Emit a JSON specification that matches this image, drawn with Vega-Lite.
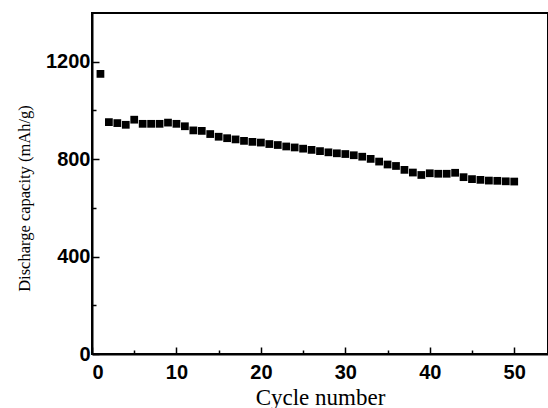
{
  "$schema": "https://vega.github.io/schema/vega-lite/v6.json",
  "width": 456,
  "height": 341,
  "autosize": {"type": "none"},
  "padding": {"left": 92, "top": 13, "right": 0, "bottom": 54},
  "background": "white",
  "view": {"stroke": "black", "strokeWidth": 2},
  "config": {
    "axis": {"grid": false, "domainColor": "black", "domainWidth": 2, "tickColor": "black", "tickWidth": 1.5, "labelColor": "black", "titleColor": "black"}
  },
  "data": {
    "values": [
      {"cycle": 1, "capacity": 1150},
      {"cycle": 2, "capacity": 952},
      {"cycle": 3, "capacity": 948},
      {"cycle": 4, "capacity": 941},
      {"cycle": 5, "capacity": 962},
      {"cycle": 6, "capacity": 945},
      {"cycle": 7, "capacity": 945},
      {"cycle": 8, "capacity": 945},
      {"cycle": 9, "capacity": 950},
      {"cycle": 10, "capacity": 945},
      {"cycle": 11, "capacity": 935},
      {"cycle": 12, "capacity": 918},
      {"cycle": 13, "capacity": 916},
      {"cycle": 14, "capacity": 903},
      {"cycle": 15, "capacity": 892},
      {"cycle": 16, "capacity": 886},
      {"cycle": 17, "capacity": 881},
      {"cycle": 18, "capacity": 875},
      {"cycle": 19, "capacity": 871},
      {"cycle": 20, "capacity": 868},
      {"cycle": 21, "capacity": 862},
      {"cycle": 22, "capacity": 858},
      {"cycle": 23, "capacity": 852},
      {"cycle": 24, "capacity": 848},
      {"cycle": 25, "capacity": 843},
      {"cycle": 26, "capacity": 838},
      {"cycle": 27, "capacity": 833},
      {"cycle": 28, "capacity": 828},
      {"cycle": 29, "capacity": 824},
      {"cycle": 30, "capacity": 821},
      {"cycle": 31, "capacity": 816},
      {"cycle": 32, "capacity": 810},
      {"cycle": 33, "capacity": 801},
      {"cycle": 34, "capacity": 790},
      {"cycle": 35, "capacity": 778},
      {"cycle": 36, "capacity": 772},
      {"cycle": 37, "capacity": 756},
      {"cycle": 38, "capacity": 745},
      {"cycle": 39, "capacity": 735},
      {"cycle": 40, "capacity": 742},
      {"cycle": 41, "capacity": 740},
      {"cycle": 42, "capacity": 740},
      {"cycle": 43, "capacity": 744},
      {"cycle": 44, "capacity": 726},
      {"cycle": 45, "capacity": 718},
      {"cycle": 46, "capacity": 715},
      {"cycle": 47, "capacity": 712},
      {"cycle": 48, "capacity": 711},
      {"cycle": 49, "capacity": 709},
      {"cycle": 50, "capacity": 708}
    ]
  },
  "mark": {"type": "point", "shape": "square", "filled": true, "color": "black", "opacity": 1, "size": 60},
  "encoding": {
    "x": {
      "field": "cycle",
      "type": "quantitative",
      "scale": {"domain": [0, 54], "nice": false, "zero": false},
      "axis": {
        "title": "Cycle number",
        "titleFont": "Liberation Serif",
        "titleFontSize": 23,
        "titleFontWeight": "normal",
        "titlePadding": 4,
        "values": [0, 5, 10, 15, 20, 25, 30, 35, 40, 45, 50],
        "labelExpr": "datum.value % 10 === 0 ? datum.label : ''",
        "labelFont": "Liberation Sans",
        "labelFontSize": 20,
        "labelFontWeight": "bold",
        "labelPadding": 15,
        "tickSize": {"condition": {"test": "datum.value % 10 === 0", "value": -7}, "value": -4}
      }
    },
    "y": {
      "field": "capacity",
      "type": "quantitative",
      "scale": {"domain": [0, 1400], "nice": false},
      "axis": {
        "title": "Discharge capacity (mAh/g)",
        "titleFont": "Liberation Serif",
        "titleFontSize": 16.5,
        "titleFontWeight": "normal",
        "titlePadding": 13,
        "titleY": 185,
        "values": [0, 200, 400, 600, 800, 1000, 1200],
        "labelExpr": "datum.value % 400 === 0 ? datum.label : ''",
        "format": "d",
        "labelFont": "Liberation Sans",
        "labelFontSize": 20,
        "labelFontWeight": "bold",
        "labelPadding": 9,
        "tickSize": {"condition": {"test": "datum.value % 400 === 0", "value": -7}, "value": -4}
      }
    }
  }
}
